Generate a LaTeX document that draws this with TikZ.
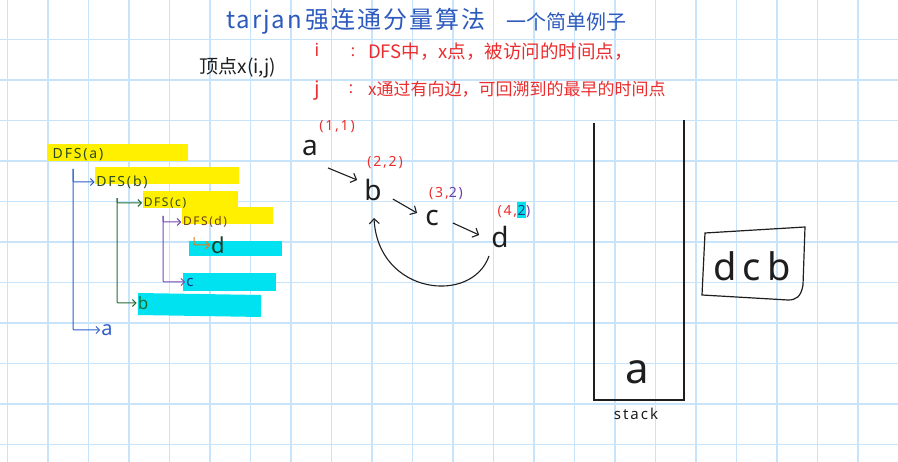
\documentclass[tikz,border=0pt]{standalone}
\usepackage{fontspec}
\setmainfont{Noto Sans}
\newfontfamily\cjk{Noto Sans CJK SC}
\newfontfamily\hand[LetterSpace=13]{Noto Sans}
\usetikzlibrary{arrows.meta}
\definecolor{gridc}{RGB}{200,228,250}
\definecolor{titleblue}{RGB}{45,90,190}
\definecolor{redc}{RGB}{235,45,45}
\definecolor{hlyellow}{RGB}{255,240,0}
\definecolor{hlcyan}{RGB}{0,226,240}
\definecolor{dfsgreen}{RGB}{45,75,25}
\definecolor{brkblue}{RGB}{45,95,200}
\definecolor{brkgreen}{RGB}{35,110,55}
\definecolor{brkpurple}{RGB}{120,70,180}
\definecolor{brkorange}{RGB}{230,120,30}
\definecolor{dfsbrown}{RGB}{110,60,20}
\definecolor{ltrd}{RGB}{25,60,40}
\definecolor{ltrc}{RGB}{30,60,130}
\definecolor{ltrb}{RGB}{30,110,50}
\definecolor{ltra}{RGB}{50,95,200}
\definecolor{purplec}{RGB}{110,60,170}
\definecolor{ink}{RGB}{30,30,30}
\tikzset{
  gridline/.style={gridc,line width=1.5pt},
  hly/.style={hlyellow,line width=17pt},
  hlc/.style={hlcyan,line width=15pt},
  arr/.style={-{Straight Barb[length=3.5pt,width=7pt]}},
  brk/.style={line width=1pt,arr,rounded corners=1pt},
  dfs/.style={inner sep=1.5pt,font=\hand\fontsize{14}{14}\selectfont,text=dfsgreen},
  dfss/.style={inner sep=1.5pt,font=\hand\fontsize{12}{12}\selectfont},
  vtx/.style={inner sep=0pt,font=\fontsize{28}{28}\selectfont,text=ink},
  lbl/.style={inner sep=0pt,font=\hand\fontsize{14}{14}\selectfont,text=redc},
  edge/.style={ink,line width=1.1pt,-{Straight Barb[length=5pt,width=10pt]}},
}
\begin{document}
\begin{tikzpicture}[x=1pt,y=-1pt]
\useasboundingbox (0,0) rectangle (898,462);
\fill[white] (0,0) rectangle (898,462);
\foreach \k in {0,...,22} \draw[gridline] ({7.3+40.5*\k},0) -- ({7.3+40.5*\k},462);
\foreach \k in {1,...,11} \draw[gridline] (0,{-1.2+40.5*\k}) -- (898,{-1.2+40.5*\k});

% title
\node[inner sep=0,anchor=west,text=titleblue,font=\cjk\fontsize{24}{24}\selectfont] (title) at (226,21) {\addfontfeature{LetterSpace=8}tarjan\,强连通分量算法};
\node[inner sep=0,text=titleblue,font=\cjk\fontsize{20}{20}\selectfont] (title2) at (566,22) {一个简单例子};

% definitions
\node[inner sep=0,text=ink,font=\cjk\fontsize{19}{19}\selectfont] (vx) at (238,68) {顶点x(i,j)};
\node[inner sep=0,text=redc,font=\fontsize{18}{18}\selectfont] (ii) at (317,50) {i};
\node[inner sep=0,text=redc,font=\fontsize{16}{16}\selectfont] (c1) at (353,52) {:};
\node[inner sep=0,anchor=west,text=redc,font=\cjk\fontsize{18.5}{18.5}\selectfont] (d1) at (368,52) {DFS中，x点，被访问的时间点，};
\node[inner sep=0,text=redc,font=\fontsize{20}{20}\selectfont] (jj) at (317,91) {j};
\node[inner sep=0,text=redc,font=\fontsize{16}{16}\selectfont] (c2) at (351,89) {:};
\node[inner sep=0,anchor=west,text=redc,font=\cjk\fontsize{17}{17}\selectfont] (d2) at (368,89) {x通过有向边，可回溯到的最早的时间点};

% highlights
\draw[hly] (47,153) -- (188,153);
\draw[hly] (95,176) -- (239,176);
\draw[hly] (143,200) -- (238,200);
\draw[hly] (182,216) -- (273,216);
\draw[hlc] (189,249) -- (282,249);
\draw[hlc,line width=18pt] (183,282) -- (276,282);
\draw[hlc,line width=22pt] (138,304) -- (261,306);

% DFS tree
\node[dfs] (dfsa) at (78,155) {DFS(a)};
\node[dfs] (dfsb) at (122,182) {DFS(b)};
\node[dfss,text=dfsgreen] (dfsc) at (165,203) {DFS(c)};
\node[dfss,text=dfsbrown] (dfsd) at (205,222) {DFS(d)};
\node[inner sep=1pt,text=ltrd,font=\fontsize{22}{22}\selectfont] (nd) at (218,245) {d};
\node[inner sep=1pt,text=ltrc,font=\fontsize{15}{15}\selectfont] (nc) at (190,282) {c};
\node[inner sep=1pt,text=ltrb,font=\fontsize{17}{17}\selectfont] (nb) at (143,303) {b};
\node[inner sep=1pt,text=ltra,font=\fontsize{20}{20}\selectfont] (na) at (107,330) {a};

\draw[brk,brkblue] ([xshift=-5pt,yshift=-6pt]dfsa.south) |- (dfsb.west);
\draw[brk,brkblue] ([xshift=-5pt,yshift=-6pt]dfsa.south) |- (na.west);
\draw[brk,brkgreen] ([xshift=-5pt,yshift=-8pt]dfsb.south) |- (dfsc.west);
\draw[brk,brkgreen] ([xshift=-5pt,yshift=-8pt]dfsb.south) |- (nb.west);
\draw[brk,brkpurple] ([xshift=-2pt,yshift=-6pt]dfsc.south) |- (dfsd.west);
\draw[brk,brkpurple] ([xshift=-2pt,yshift=-6pt]dfsc.south) |- (nc.west);
\draw[brk,brkorange] ([xshift=-11pt,yshift=-8pt]dfsd.south) |- (nd.west);

% graph
\node[vtx] (a) at (310,148) {a};
\node[vtx] (b) at (373,190) {b};
\node[vtx] (c) at (432,218) {c};
\node[vtx] (d) at (500,237) {d};
\node[lbl] (la) at (337,127) {(1,1)};
\node[lbl] (lb) at (385,163) {(2,2)};
\node[lbl] (lc) at (446,194) {(3,\textcolor{purplec}{2)}};
\node[lbl] (ld) at (514,210) {(4,\colorbox{hlcyan}{\kern-2.5pt\textcolor{ltrc}{2}\kern-2.5pt}\textcolor{purplec}{)}};

\draw[edge] ([shift={(10,12)}]a.south east) -- ([shift={(-7,-10)}]b.west);
\draw[edge] ([shift={(11,9)}]b.east) -- ([shift={(-8,-5)}]c.west);
\draw[edge] ([shift={(14,5)}]c.east) -- ([shift={(-12,-2)}]d.west);
\draw[edge] ([shift={(-11,8)}]d.south) .. controls (472,305) and (378,295) .. ([shift={(1,17)}]b.south);

% stack
\node[inner sep=0,text=ink,font=\fontsize{42}{42}\selectfont] (sa) at (637,372) {a};
\node[inner sep=0,text=ink,font=\hand\fontsize{15}{15}\selectfont] (st) at (636,414) {stack};
\draw[ink,line width=1.2pt] (594,123) -- (594,400) -- (684,400) -- (684,120);

% scc box
\node[inner sep=0,text=ink,font=\fontsize{38}{38}\selectfont] (scc) at (752,266) {d\,c\,b};
\draw[ink,line width=1.2pt] (705,233) -- (805,227) -- (803,285) .. controls (801,297) and (796,300) .. (788,300) -- (702,295) -- cycle;
\end{tikzpicture}
\end{document}
